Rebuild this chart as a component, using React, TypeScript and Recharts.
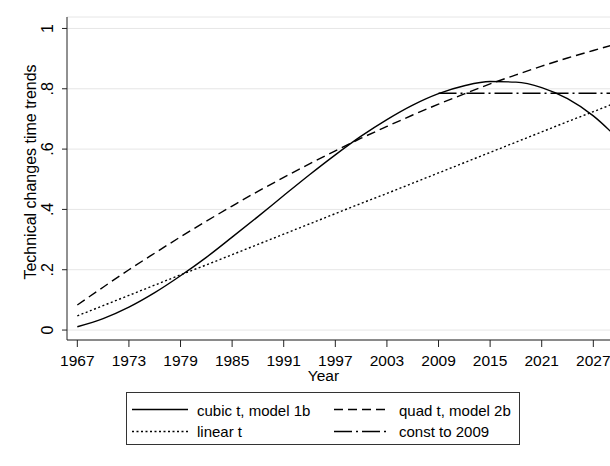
import { LineChart, Line, XAxis, YAxis, CartesianGrid, Legend } from "recharts";

const years = [
  1967, 1970, 1973, 1976, 1979, 1982, 1985, 1988, 1991, 1994, 1997, 2000,
  2003, 2006, 2009, 2012, 2015, 2018, 2021, 2024, 2027, 2030,
];
const cubic = [
  0.011, 0.038, 0.076, 0.124, 0.18, 0.241, 0.308, 0.376, 0.446, 0.515, 0.581,
  0.643, 0.698, 0.746, 0.784, 0.81, 0.824, 0.822, 0.804, 0.767, 0.71, 0.631,
];
const quad = [
  0.083, 0.142, 0.2, 0.255, 0.309, 0.361, 0.411, 0.46, 0.506, 0.551, 0.594,
  0.636, 0.675, 0.713, 0.749, 0.783, 0.816, 0.846, 0.875, 0.902, 0.927, 0.951,
];
const linear = [
  0.047, 0.081, 0.115, 0.149, 0.183, 0.216, 0.25, 0.284, 0.318, 0.352, 0.386,
  0.42, 0.453, 0.487, 0.521, 0.555, 0.589, 0.623, 0.657, 0.691, 0.724, 0.758,
];
const constTo2009 = [
  null, null, null, null, null, null, null, null, null, null, null, null,
  null, null, 0.785, 0.785, 0.785, 0.785, 0.785, 0.785, 0.785, 0.785,
];
const xTicks = [1967, 1973, 1979, 1985, 1991, 1997, 2003, 2009, 2015, 2021, 2027];
const yTicks = [0, 0.2, 0.4, 0.6, 0.8, 1];
const yTickLabels = ["0", ".2", ".4", ".6", ".8", "1"];

const series = [
  { key: "cubic", name: "cubic t, model 1b", dash: undefined },
  { key: "quad", name: "quad t, model 2b", dash: "9 5" },
  { key: "linear", name: "linear t", dash: "2 2.5" },
  { key: "const", name: "const to 2009", dash: "18 4 2 4" },
];

const data = years.map((year, i) => ({
  year,
  cubic: cubic[i],
  quad: quad[i],
  linear: linear[i],
  const: constTo2009[i],
}));

const FONT = "Arial, 'Liberation Sans', sans-serif";

const YTick = (props: any) => {
  const { x, y, payload } = props;
  const idx = yTicks.indexOf(payload.value);
  return (
    <text
      x={x - 7}
      y={y}
      transform={`rotate(-90, ${x - 7}, ${y})`}
      textAnchor="middle"
      fontSize={16}
      fontFamily={FONT}
      fill="#000"
    >
      {yTickLabels[idx]}
    </text>
  );
};

const LegendBox = () => {
  const cols = [
    { lx: 6, tx: 71 },
    { lx: 208, tx: 273 },
  ];
  return (
    <svg width={394} height={53} style={{ display: "block" }}>
      <rect x={0.5} y={0.5} width={393} height={52} fill="#fff" stroke="#333" />
      {series.map((s, i) => {
        const col = cols[i % 2];
        const row = Math.floor(i / 2);
        const ly = row === 0 ? 17.5 : 39.5;
        return (
          <g key={s.key}>
            <line
              x1={col.lx}
              x2={col.lx + 56}
              y1={ly}
              y2={ly}
              stroke="#000"
              strokeWidth={1.4}
              strokeDasharray={s.dash}
            />
            <text
              x={col.tx}
              y={row === 0 ? 23.5 : 44.5}
              fontSize={15}
              fontFamily={FONT}
              fill="#000"
            >
              {s.name}
            </text>
          </g>
        );
      })}
    </svg>
  );
};

export default function App() {
  return (
    <div
      style={{
        position: "absolute",
        left: 0,
        top: 0,
        width: 610,
        height: 466,
        background: "#fff",
        overflow: "hidden",
      }}
    >
      <LineChart
        width={610}
        height={466}
        data={data}
        margin={{ top: 17, right: 0, bottom: 86, left: 0 }}
      >
        <CartesianGrid horizontal vertical={false} stroke="#e6e6e6" />
        <XAxis
          dataKey="year"
          type="number"
          domain={[1965.8, 2028.94]}
          allowDataOverflow
          ticks={xTicks}
          interval={0}
          height={40}
          tickSize={7}
          tickMargin={8}
          stroke="#222"
          tick={{ fill: "#000", fontSize: 15.5, fontFamily: FONT }}
          label={{
            value: "Year",
            content: () => (
              <text
                x={323.5}
                y={381}
                textAnchor="middle"
                fontSize={15.5}
                fontFamily={FONT}
                fill="#000"
              >
                Year
              </text>
            ),
          }}
        />
        <YAxis
          type="number"
          domain={[-0.033, 1.038]}
          allowDataOverflow
          ticks={yTicks}
          interval={0}
          width={67}
          tickSize={5}
          stroke="#222"
          tick={<YTick />}
          label={{
            value: "Technical changes time trends",
            content: () => (
              <text
                x={36}
                y={172}
                transform="rotate(-90, 36, 172)"
                textAnchor="middle"
                fontSize={16}
                fontFamily={FONT}
                fill="#000"
              >
                Technical changes time trends
              </text>
            ),
          }}
        />
        <Legend
          layout="vertical"
          align="center"
          verticalAlign="middle"
          wrapperStyle={{ left: 126, top: 392, width: 394, height: 53 }}
          content={() => <LegendBox />}
        />
        <Line
          dataKey="linear"
          name="linear t"
          type="monotone"
          stroke="#000"
          strokeWidth={1.4}
          strokeDasharray="2 2.5"
          dot={false}
          isAnimationActive={false}
        />
        <Line
          dataKey="quad"
          name="quad t, model 2b"
          type="monotone"
          stroke="#000"
          strokeWidth={1.4}
          strokeDasharray="9 5"
          dot={false}
          isAnimationActive={false}
        />
        <Line
          dataKey="const"
          name="const to 2009"
          type="linear"
          stroke="#000"
          strokeWidth={1.4}
          strokeDasharray="18 4 2 4"
          dot={false}
          isAnimationActive={false}
        />
        <Line
          dataKey="cubic"
          name="cubic t, model 1b"
          type="monotone"
          stroke="#000"
          strokeWidth={1.4}
          dot={false}
          isAnimationActive={false}
        />
      </LineChart>
    </div>
  );
}
